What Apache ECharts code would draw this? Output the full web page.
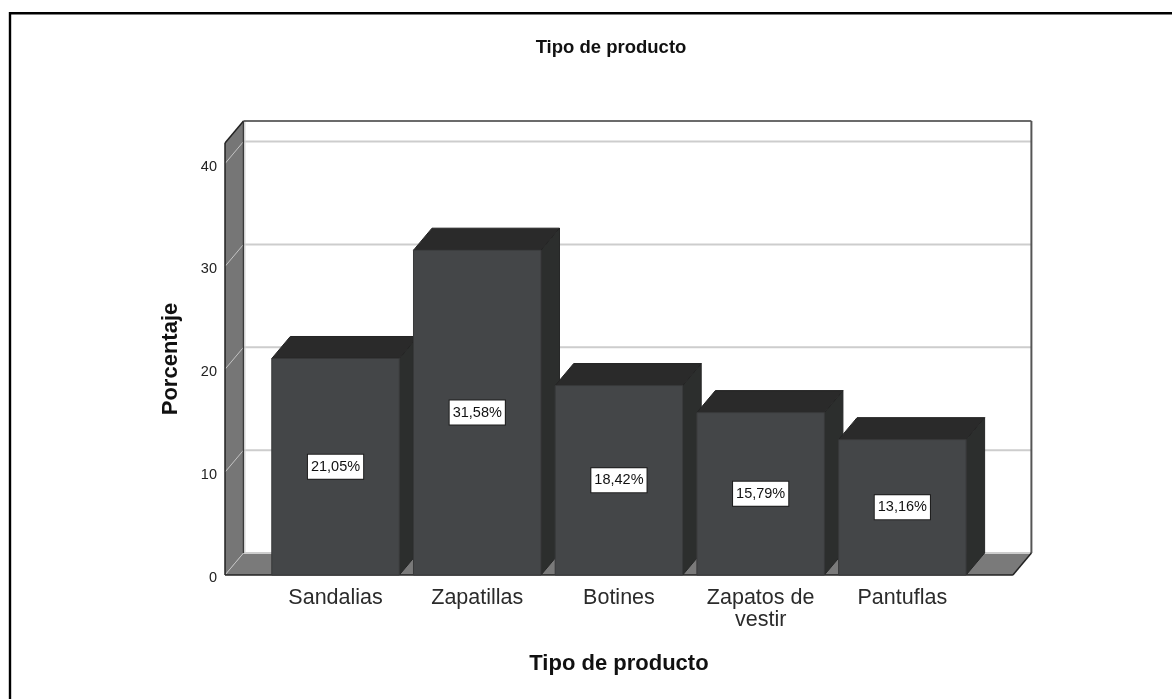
<!DOCTYPE html>
<html><head><meta charset="utf-8">
<style>html,body{margin:0;padding:0;background:#fff}#c{width:1172px;height:699px}</style>
<script src="https://cdn.jsdelivr.net/npm/echarts@6/dist/echarts.min.js"></script>
</head><body><div id="c"></div>
<script>
const chartTitle = 'Tipo de producto';
const categories = ['Sandalias', 'Zapatillas', 'Botines', 'Zapatos de\nvestir', 'Pantuflas'];
const percentages = [21.05, 31.58, 18.42, 15.79, 13.16];
const yTicks = [0, 10, 20, 30, 40];
const xAxisName = 'Tipo de producto';
const yAxisName = 'Porcentaje';
const fontFamily = '"Liberation Sans", Arial, sans-serif';

const DX = 18.5, DY = -22, WALL_GAP = 39.7;
const chart = echarts.init(document.getElementById('c'), null, {renderer: 'canvas'});

function poly(points, fill, stroke, lw) {
  return {type: 'polygon', shape: {points}, style: {fill, stroke: stroke || null, lineWidth: lw || 0}};
}
function line(x1, y1, x2, y2, stroke, lw) {
  return {type: 'line', shape: {x1, y1, x2, y2}, style: {stroke, lineWidth: lw}};
}
function bounds(params, api) {
  const c = params.coordSys;
  return {l: c.x - WALL_GAP, r: c.x + c.width + WALL_GAP, t: c.y, b: c.y + c.height};
}
function renderWalls(params, api) {
  const {l, r, t, b} = bounds(params, api);
  return {type: 'group', children: [
    poly([[l + DX, t + DY], [r + DX, t + DY], [r + DX, b + DY], [l + DX, b + DY]], '#ffffff'),
    poly([[l, b], [l, t], [l + DX, t + DY], [l + DX, b + DY]], '#767676'),
    poly([[l, b], [l + DX, b + DY], [r + DX, b + DY], [r, b]], '#7a7a7a')
  ]};
}
function renderGrid(params, api) {
  const {l, r} = bounds(params, api);
  const y = api.coord([0, api.value(0)])[1];
  return {type: 'group', children: [
    line(l + DX, y + DY, r + DX, y + DY, '#cdcdcd', 2),
    line(l, y, l + DX, y + DY, '#c4c4c4', 1)
  ]};
}
function renderFrame(params, api) {
  const {l, r, t, b} = bounds(params, api);
  const ink = '#3a3a3a';
  return {type: 'group', children: [
    line(l, b, l, t, '#222', 1.5),
    line(l, t, l + DX, t + DY, '#222', 1.5),
    line(l + DX, t + DY, l + DX, b + DY, ink, 1.5),
    line(l + DX + 1.5, t + DY, l + DX + 1.5, b + DY, '#d4d4d4', 1),
    line(l + DX, t + DY, r + DX, t + DY, ink, 1.5),
    line(r + DX, t + DY, r + DX, b + DY, '#555', 2),
    line(l, b, r, b, '#222', 1.5),
    line(r, b, r + DX, b + DY, '#222', 1.5)
  ]};
}
function renderBar(params, api) {
  const idx = api.value(0), v = api.value(1);
  const base = api.coord([idx, 0]), top = api.coord([idx, v]);
  const w = api.size([1, 0])[0] * 0.9;
  const x0 = base[0] - w / 2, x1 = base[0] + w / 2, yb = base[1], yt = top[1];
  const mid = api.coord([idx, v / 2]);
  return {type: 'group', children: [
    poly([[x1, yb], [x1, yt], [x1 + DX, yt + DY], [x1 + DX, yb + DY]], '#2c2e2d', '#262727', 1),
    poly([[x0, yt], [x0 + DX, yt + DY], [x1 + DX, yt + DY], [x1, yt]], '#2a2a2a', '#242424', 1),
    {type: 'rect', shape: {x: x0, y: yt, width: w, height: yb - yt},
     style: {fill: '#444648', stroke: '#38393a', lineWidth: 1}},
    {type: 'text', x: mid[0], y: mid[1], style: {
      text: v.toFixed(2).replace('.', ',') + '%', align: 'center', verticalAlign: 'middle',
      font: '14.5px ' + fontFamily, fill: '#111', backgroundColor: '#fff',
      borderColor: '#1c1c1c', borderWidth: 1, padding: [5, 3, 4, 3]
    }}
  ]};
}

chart.setOption({
  animation: false,
  backgroundColor: '#fff',
  title: {text: chartTitle, left: 606, top: 33, textAlign: 'center',
    textStyle: {fontFamily, fontWeight: 'bold', fontSize: 18.5, color: '#111'}},
  grid: {left: 264.7, right: 198.8, top: 143, bottom: 124, containLabel: false},
  xAxis: {type: 'category', data: categories, boundaryGap: true,
    axisLine: {show: false}, axisTick: {show: false}, splitLine: {show: false},
    axisLabel: {interval: 0, margin: 12, fontFamily, fontSize: 21.5, lineHeight: 22, color: '#2b2b2b'},
    name: xAxisName, nameLocation: 'middle', nameGap: 78,
    nameTextStyle: {fontFamily, fontWeight: 'bold', fontSize: 22, color: '#111'}},
  yAxis: {type: 'value', min: 0, max: 42, interval: 10, offset: WALL_GAP,
    axisLine: {show: false}, axisTick: {show: false}, splitLine: {show: false},
    axisLabel: {showMaxLabel: false, margin: 8, fontFamily, fontSize: 14.5, color: '#222', verticalAlign: 'top', lineHeight: 6},
    name: yAxisName, nameLocation: 'middle', nameGap: 43,
    nameTextStyle: {fontFamily, fontWeight: 'bold', fontSize: 22, color: '#111'}},
  graphic: [
    {type: 'line', shape: {x1: 9, y1: 13.2, x2: 1172, y2: 13.2}, style: {stroke: '#000', lineWidth: 2.6}},
    {type: 'line', shape: {x1: 10, y1: 12, x2: 10, y2: 699}, style: {stroke: '#000', lineWidth: 2.4}}
  ],
  series: [
    {type: 'custom', name: 'paredes', z: 1, silent: true, clip: false, renderItem: renderWalls, data: [[0]], encode: {x: 0}},
    {type: 'custom', name: 'rejilla', z: 2, silent: true, clip: false, renderItem: renderGrid,
      data: yTicks.map(t => [t]), encode: {y: 0}},
    {type: 'custom', name: 'marco', z: 3, silent: true, clip: false, renderItem: renderFrame, data: [[0]], encode: {x: 0}},
    {type: 'custom', name: 'Porcentaje', z: 4, clip: false, renderItem: renderBar,
      data: percentages.map((v, i) => [i, v]), encode: {x: 0, y: 1}}
  ]
});
</script></body></html>
